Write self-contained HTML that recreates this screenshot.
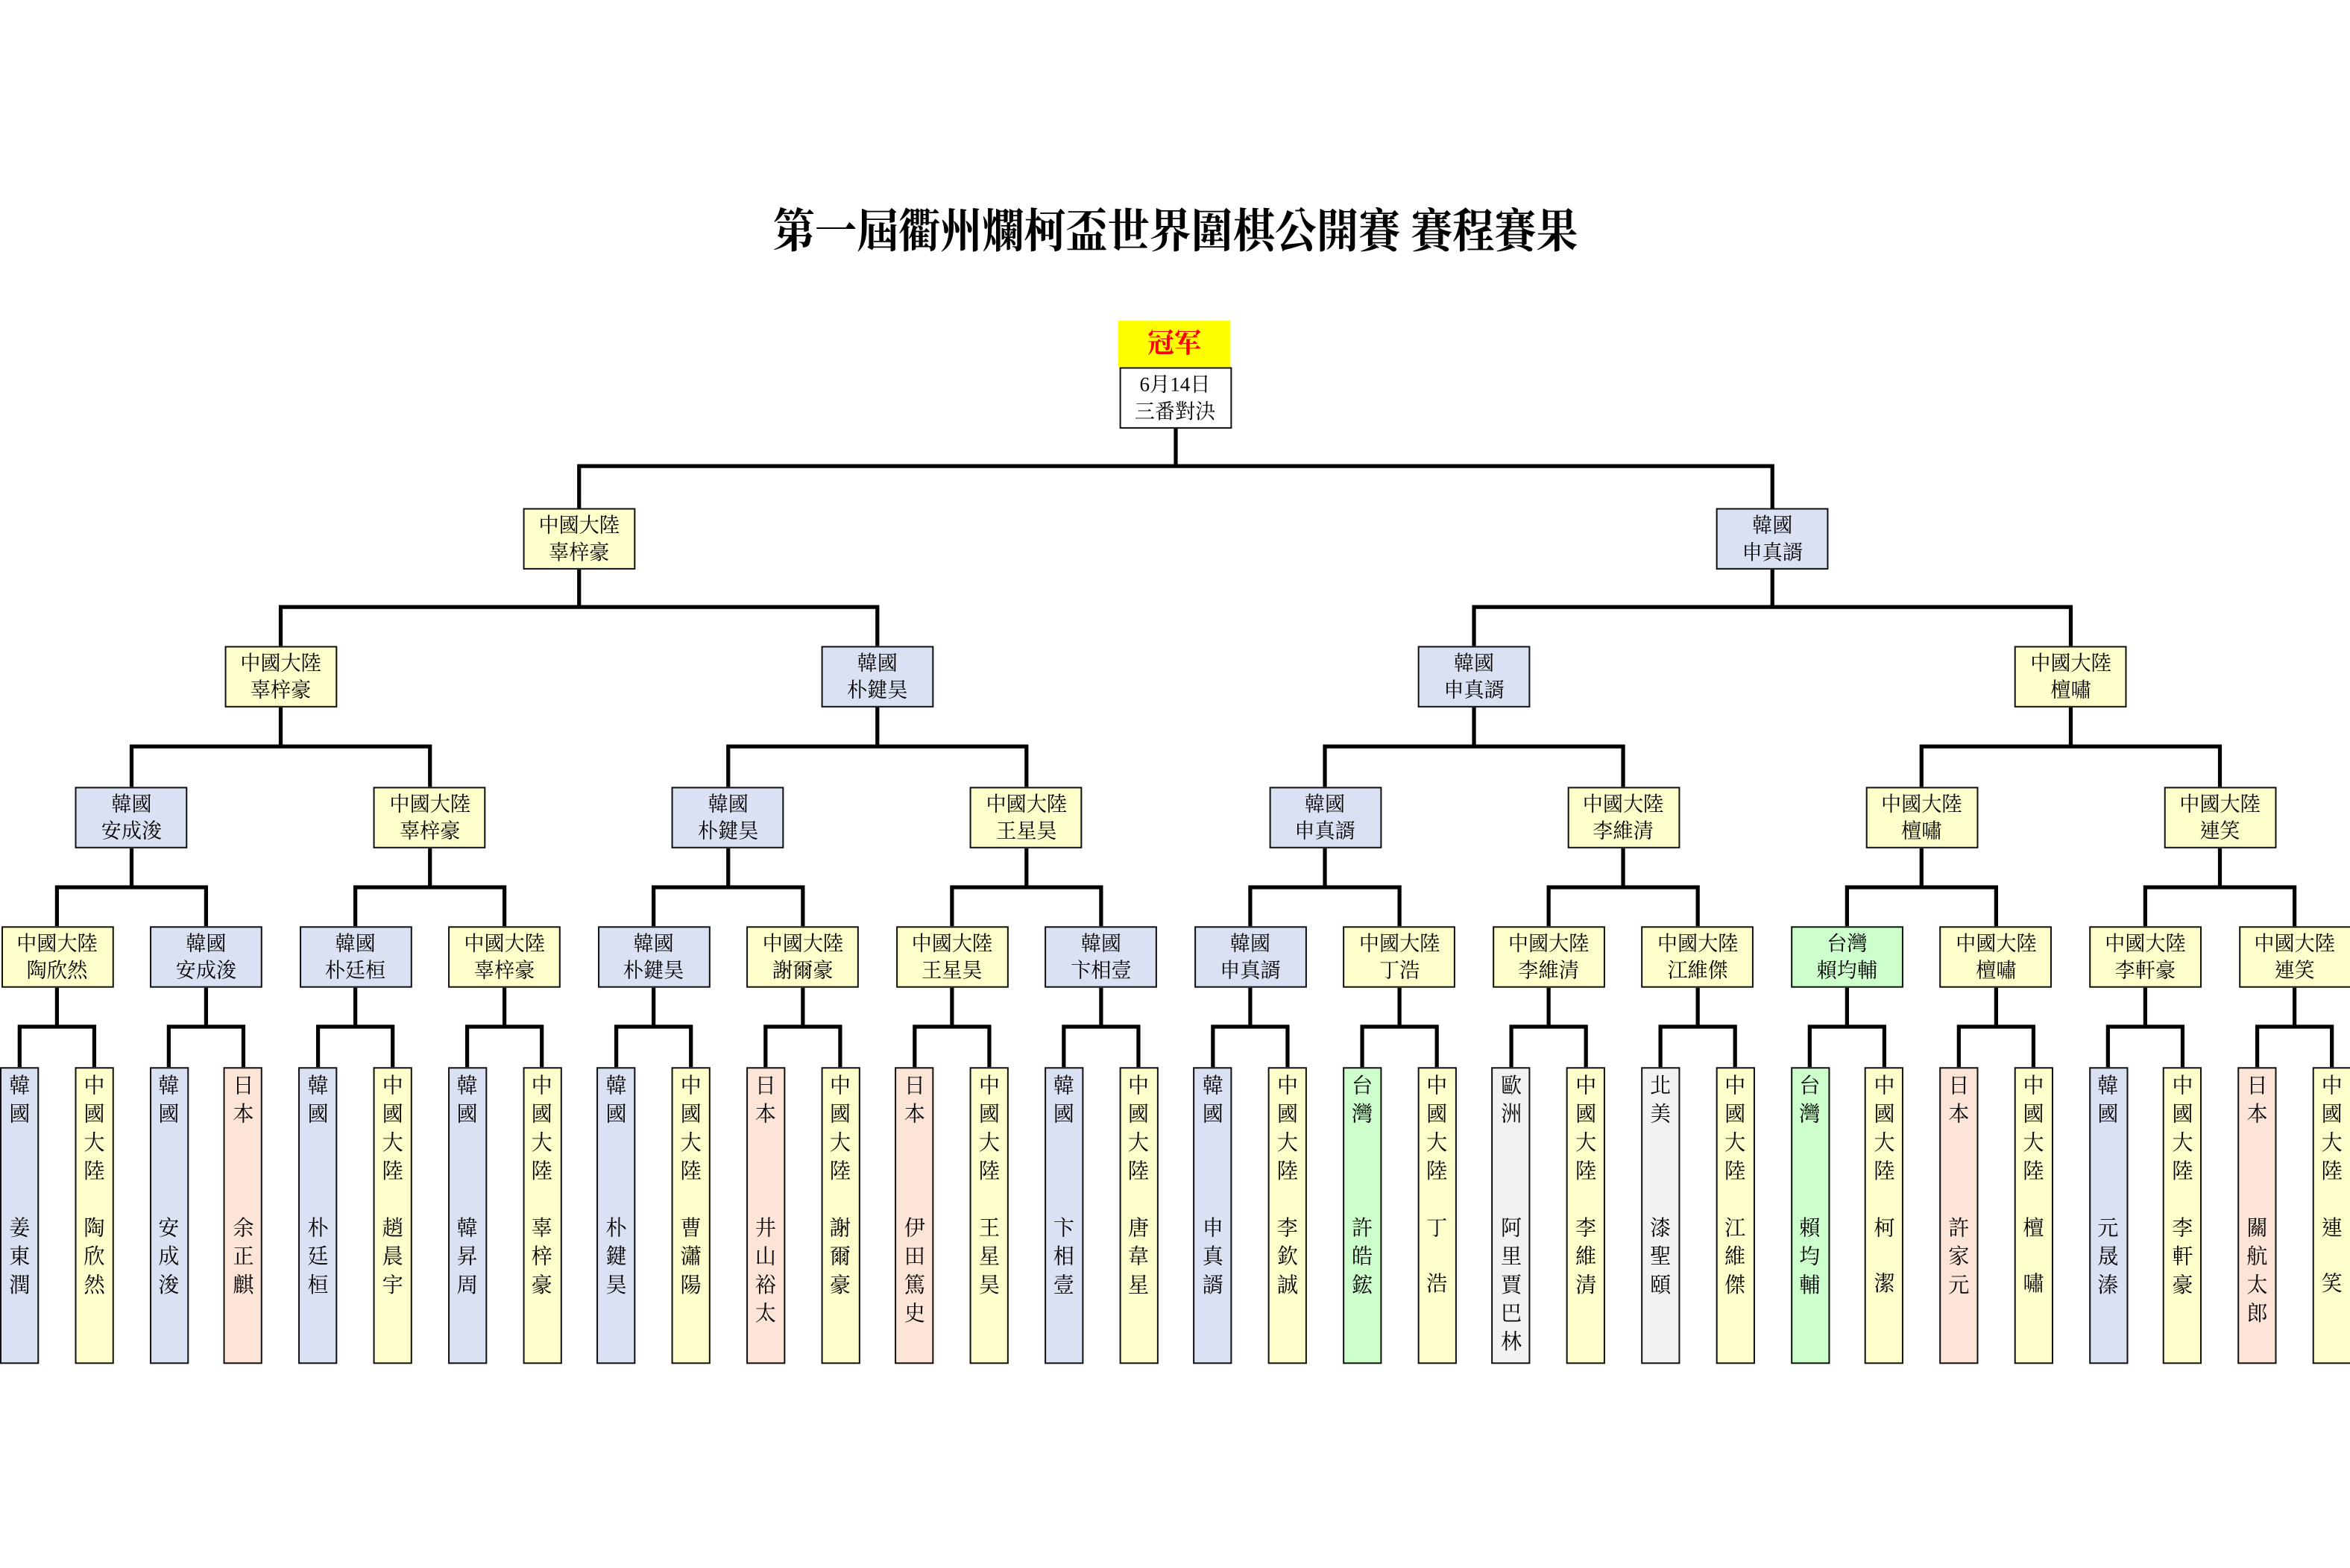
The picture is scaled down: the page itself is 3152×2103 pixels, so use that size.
<!DOCTYPE html>
<html><head><meta charset="utf-8">
<style>
html,body{margin:0;padding:0;background:#fff;}
body{width:3152px;height:2101px;overflow:hidden;position:relative;}
#s{position:absolute;left:0;top:0;width:1568px;height:1046px;transform:scale(2.0102);transform-origin:0 0;font-family:"Liberation Serif","Noto Serif CJK TC","Noto Serif CJK SC",serif;color:#000;}
.t{position:absolute;left:0;width:1568px;top:136px;text-align:center;font-size:31px;line-height:38px;font-weight:bold;}
.t span{display:inline-block;transform:scaleX(0.9);}
.b{position:absolute;width:75px;height:41px;margin-left:-37.5px;border:1.4px solid #111;box-sizing:border-box;font-size:13.5px;line-height:17.5px;text-align:center;padding-top:2px;white-space:nowrap;}
.l{position:absolute;top:712px;width:26px;height:198px;margin-left:-13px;border:1.4px solid #111;box-sizing:border-box;font-size:14px;line-height:19px;text-align:center;}
.l .c{position:absolute;left:0;right:0;top:3px;}
.l .n{position:absolute;left:0;right:0;top:98px;}
.l .n2{line-height:37px;top:89px;}
.y{background:#ffffcc}.u{background:#d9e1f2}.p{background:#fce4d6}.g{background:#ccffcc}.e{background:#f2f2f2}.w{background:#fff}
svg{position:absolute;left:0;top:0;}
</style></head><body><div id="s">
<div class="t"><span>第一屆衢州爛柯盃世界圍棋公開賽 賽程賽果</span></div>
<svg width="1568" height="1046" viewBox="0 0 1568 1046" fill="none" stroke="#000" stroke-width="2.6">
<path d="M784.5 286V311M386.4 339V311H1182.6V339"/>
<path d="M386.4 379V405M187.3 431V405H585.4V431M1182.6 379V405M983.5 431V405H1381.7V431"/>
<path d="M187.3 471V498M87.8 525V498H286.9V525M585.4 471V498M485.9 525V498H684.9V525M983.5 471V498M884 525V498H1083V525M1381.7 471V498M1282.1 525V498H1481.2V525"/>
<path d="M87.8 566V592M38 618V592H137.5V618M286.9 566V592M237.1 618V592H336.6V618M485.9 566V592M436.1 618V592H535.7V618M684.9 566V592M635.2 618V592H734.7V618M884 566V592M834.2 618V592H933.8V618M1083 566V592M1033.3 618V592H1132.8V618M1282.1 566V592M1232.4 618V592H1331.9V618M1481.2 566V592M1431.4 618V592H1531V618"/>
<path d="M38 659V685M13.1 712V685H62.9V712M137.5 659V685M112.6 712V685H162.4V712M237.1 659V685M212.2 712V685H262V712M336.6 659V685M311.7 712V685H361.5V712M436.1 659V685M411.2 712V685H461V712M535.7 659V685M510.8 712V685H560.6V712M635.2 659V685M610.3 712V685H660.1V712M734.7 659V685M709.8 712V685H759.6V712M834.2 659V685M809.3 712V685H859.1V712M933.8 659V685M908.9 712V685H958.7V712M1033.3 659V685M1008.4 712V685H1058.2V712M1132.8 659V685M1107.9 712V685H1157.7V712M1232.4 659V685M1207.5 712V685H1257.3V712M1331.9 659V685M1307 712V685H1356.8V712M1431.4 659V685M1406.5 712V685H1456.3V712M1531 659V685M1506.1 712V685H1555.9V712"/>
</svg>
<div style="position:absolute;left:746px;top:214px;width:75px;height:31px;background:#ffff00;color:#ff0000;font-size:18px;line-height:31px;text-align:center;font-weight:bold;">冠军</div>
<div class="b w" style="left:784px;top:245px;">6月14日<br>三番對決</div>

<div class="b y" style="left:386.4px;top:339px;">中國大陸<br>辜梓豪</div>
<div class="b u" style="left:1182.6px;top:339px;">韓國<br>申真諝</div>

<div class="b y" style="left:187.3px;top:431px;">中國大陸<br>辜梓豪</div>
<div class="b u" style="left:585.4px;top:431px;">韓國<br>朴鍵昊</div>
<div class="b u" style="left:983.5px;top:431px;">韓國<br>申真諝</div>
<div class="b y" style="left:1381.7px;top:431px;">中國大陸<br>檀嘯</div>

<div class="b u" style="left:87.8px;top:525px;">韓國<br>安成浚</div>
<div class="b y" style="left:286.9px;top:525px;">中國大陸<br>辜梓豪</div>
<div class="b u" style="left:485.9px;top:525px;">韓國<br>朴鍵昊</div>
<div class="b y" style="left:684.9px;top:525px;">中國大陸<br>王星昊</div>
<div class="b u" style="left:884px;top:525px;">韓國<br>申真諝</div>
<div class="b y" style="left:1083px;top:525px;">中國大陸<br>李維清</div>
<div class="b y" style="left:1282.1px;top:525px;">中國大陸<br>檀嘯</div>
<div class="b y" style="left:1481.2px;top:525px;">中國大陸<br>連笑</div>

<div class="b y" style="left:38px;top:618px;">中國大陸<br>陶欣然</div>
<div class="b u" style="left:137.5px;top:618px;">韓國<br>安成浚</div>
<div class="b u" style="left:237.1px;top:618px;">韓國<br>朴廷桓</div>
<div class="b y" style="left:336.6px;top:618px;">中國大陸<br>辜梓豪</div>
<div class="b u" style="left:436.1px;top:618px;">韓國<br>朴鍵昊</div>
<div class="b y" style="left:535.7px;top:618px;">中國大陸<br>謝爾豪</div>
<div class="b y" style="left:635.2px;top:618px;">中國大陸<br>王星昊</div>
<div class="b u" style="left:734.7px;top:618px;">韓國<br>卞相壹</div>
<div class="b u" style="left:834.2px;top:618px;">韓國<br>申真諝</div>
<div class="b y" style="left:933.8px;top:618px;">中國大陸<br>丁浩</div>
<div class="b y" style="left:1033.3px;top:618px;">中國大陸<br>李維清</div>
<div class="b y" style="left:1132.8px;top:618px;">中國大陸<br>江維傑</div>
<div class="b g" style="left:1232.4px;top:618px;">台灣<br>賴均輔</div>
<div class="b y" style="left:1331.9px;top:618px;">中國大陸<br>檀嘯</div>
<div class="b y" style="left:1431.4px;top:618px;">中國大陸<br>李軒豪</div>
<div class="b y" style="left:1531px;top:618px;">中國大陸<br>連笑</div>

<div class="l u" style="left:13.1px"><div class="c">韓<br>國</div><div class="n">姜<br>東<br>潤</div></div>
<div class="l y" style="left:62.9px"><div class="c">中<br>國<br>大<br>陸</div><div class="n">陶<br>欣<br>然</div></div>
<div class="l u" style="left:112.6px"><div class="c">韓<br>國</div><div class="n">安<br>成<br>浚</div></div>
<div class="l p" style="left:162.4px"><div class="c">日<br>本</div><div class="n">余<br>正<br>麒</div></div>
<div class="l u" style="left:212.2px"><div class="c">韓<br>國</div><div class="n">朴<br>廷<br>桓</div></div>
<div class="l y" style="left:262px"><div class="c">中<br>國<br>大<br>陸</div><div class="n">趙<br>晨<br>宇</div></div>
<div class="l u" style="left:311.7px"><div class="c">韓<br>國</div><div class="n">韓<br>昇<br>周</div></div>
<div class="l y" style="left:361.5px"><div class="c">中<br>國<br>大<br>陸</div><div class="n">辜<br>梓<br>豪</div></div>
<div class="l u" style="left:411.2px"><div class="c">韓<br>國</div><div class="n">朴<br>鍵<br>昊</div></div>
<div class="l y" style="left:461px"><div class="c">中<br>國<br>大<br>陸</div><div class="n">曹<br>瀟<br>陽</div></div>
<div class="l p" style="left:510.8px"><div class="c">日<br>本</div><div class="n">井<br>山<br>裕<br>太</div></div>
<div class="l y" style="left:560.6px"><div class="c">中<br>國<br>大<br>陸</div><div class="n">謝<br>爾<br>豪</div></div>
<div class="l p" style="left:610.3px"><div class="c">日<br>本</div><div class="n">伊<br>田<br>篤<br>史</div></div>
<div class="l y" style="left:660.1px"><div class="c">中<br>國<br>大<br>陸</div><div class="n">王<br>星<br>昊</div></div>
<div class="l u" style="left:709.8px"><div class="c">韓<br>國</div><div class="n">卞<br>相<br>壹</div></div>
<div class="l y" style="left:759.6px"><div class="c">中<br>國<br>大<br>陸</div><div class="n">唐<br>韋<br>星</div></div>
<div class="l u" style="left:809.3px"><div class="c">韓<br>國</div><div class="n">申<br>真<br>諝</div></div>
<div class="l y" style="left:859.1px"><div class="c">中<br>國<br>大<br>陸</div><div class="n">李<br>欽<br>誠</div></div>
<div class="l g" style="left:908.9px"><div class="c">台<br>灣</div><div class="n">許<br>皓<br>鋐</div></div>
<div class="l y" style="left:958.7px"><div class="c">中<br>國<br>大<br>陸</div><div class="n n2">丁<br>浩</div></div>
<div class="l e" style="left:1008.4px"><div class="c">歐<br>洲</div><div class="n">阿<br>里<br>賈<br>巴<br>林</div></div>
<div class="l y" style="left:1058.2px"><div class="c">中<br>國<br>大<br>陸</div><div class="n">李<br>維<br>清</div></div>
<div class="l e" style="left:1107.9px"><div class="c">北<br>美</div><div class="n">漆<br>聖<br>頤</div></div>
<div class="l y" style="left:1157.7px"><div class="c">中<br>國<br>大<br>陸</div><div class="n">江<br>維<br>傑</div></div>
<div class="l g" style="left:1207.5px"><div class="c">台<br>灣</div><div class="n">賴<br>均<br>輔</div></div>
<div class="l y" style="left:1257.3px"><div class="c">中<br>國<br>大<br>陸</div><div class="n n2">柯<br>潔</div></div>
<div class="l p" style="left:1307px"><div class="c">日<br>本</div><div class="n">許<br>家<br>元</div></div>
<div class="l y" style="left:1356.8px"><div class="c">中<br>國<br>大<br>陸</div><div class="n n2">檀<br>嘯</div></div>
<div class="l u" style="left:1406.5px"><div class="c">韓<br>國</div><div class="n">元<br>晟<br>溱</div></div>
<div class="l y" style="left:1456.3px"><div class="c">中<br>國<br>大<br>陸</div><div class="n">李<br>軒<br>豪</div></div>
<div class="l p" style="left:1506.1px"><div class="c">日<br>本</div><div class="n">關<br>航<br>太<br>郎</div></div>
<div class="l y" style="left:1555.9px"><div class="c">中<br>國<br>大<br>陸</div><div class="n n2">連<br>笑</div></div>
</div></body></html>
